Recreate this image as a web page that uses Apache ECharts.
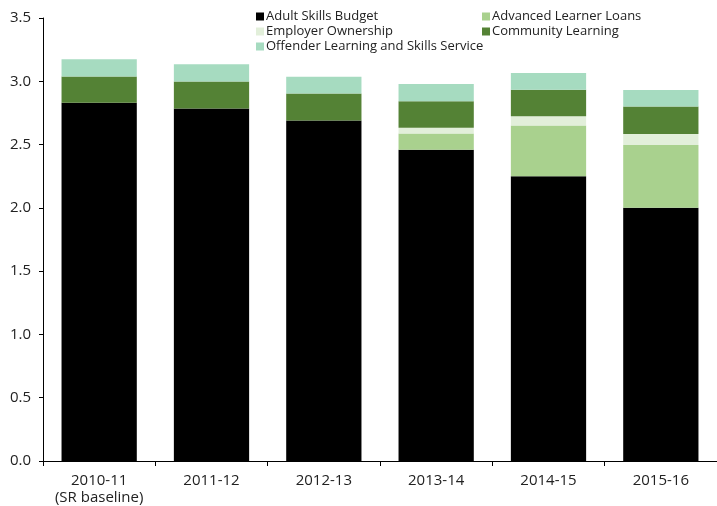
<!DOCTYPE html>
<html>
<head>
<meta charset="utf-8">
<script src="https://cdn.jsdelivr.net/npm/echarts@6/dist/echarts.min.js"></script>
<style>
  html, body { margin: 0; padding: 0; background: #fff; }
  #chart { width: 717px; height: 506px; }
</style>
</head>
<body>
<div id="chart"></div>
<script>
// £ billion per year
const years = ['2010-11\n(SR baseline)', '2011-12', '2012-13', '2013-14', '2014-15', '2015-16'];
const adultSkills = [2.83, 2.785, 2.69, 2.46, 2.25, 2.0];
const learnerLoans = [0, 0, 0, 0.127, 0.40, 0.497];
const employerOwnership = [0, 0, 0, 0.045, 0.073, 0.087];
const communityLearning = [0.207, 0.213, 0.213, 0.21, 0.21, 0.217];
const offenderLearning = [0.137, 0.137, 0.132, 0.137, 0.132, 0.131];
const yTicks = [0, 0.5, 1.0, 1.5, 2.0, 2.5, 3.0, 3.5];

const font = 'Open Sans';
const chart = echarts.init(document.getElementById('chart'));

const mkSeries = (name, data, color) => ({
    name: name,
    type: 'bar',
    stack: 'total',
    data: data,
    barCategoryGap: '33%',
    itemStyle: { color: color },
    emphasis: { disabled: true },
});

const legendText = { fontFamily: font, fontSize: 13, color: '#222', padding: [0, 0, 0, -3], lineHeight: 15 };

chart.setOption({
    animation: false,
    textStyle: { fontFamily: font },
    legend: [
        {
            left: 251,
            top: 4,
            orient: 'vertical',
            itemWidth: 8,
            itemHeight: 8,
            itemGap: 0,
            icon: 'rect',
            textStyle: legendText,
            data: ['Adult Skills Budget', 'Employer Ownership', 'Offender Learning and Skills Service'],
        },
        {
            left: 477,
            top: 4,
            orient: 'vertical',
            itemWidth: 8,
            itemHeight: 8,
            itemGap: 0,
            icon: 'rect',
            textStyle: legendText,
            data: ['Advanced Learner Loans', 'Community Learning'],
        },
    ],
    grid: { left: 43, top: 18, width: 681, height: 444, containLabel: false },
    xAxis: {
        type: 'category',
        data: years,
        axisLine: { lineStyle: { color: '#000', width: 1 } },
        axisTick: { show: true, interval: 0, length: 5, lineStyle: { color: '#000' } },
        axisLabel: { interval: 0, color: '#222', fontSize: 15, margin: 11, lineHeight: 17, fontFamily: font },
    },
    yAxis: {
        type: 'value',
        min: 0,
        max: 3.5,
        interval: 0.5,
        splitLine: { show: false },
        axisLine: { show: true, lineStyle: { color: '#000', width: 1 } },
        axisTick: { show: true, length: 4, lineStyle: { color: '#000' } },
        axisLabel: {
            color: '#222',
            fontSize: 15,
            margin: 12,
            fontFamily: font,
            formatter: (v) => yTicks.includes(v) ? v.toFixed(1) : '',
        },
    },
    series: [
        mkSeries('Adult Skills Budget', adultSkills, '#000000'),
        mkSeries('Advanced Learner Loans', learnerLoans, '#a9d18e'),
        mkSeries('Employer Ownership', employerOwnership, '#e2efda'),
        mkSeries('Community Learning', communityLearning, '#548235'),
        mkSeries('Offender Learning and Skills Service', offenderLearning, '#a6dbc0'),
    ],
});
</script>
</body>
</html>
